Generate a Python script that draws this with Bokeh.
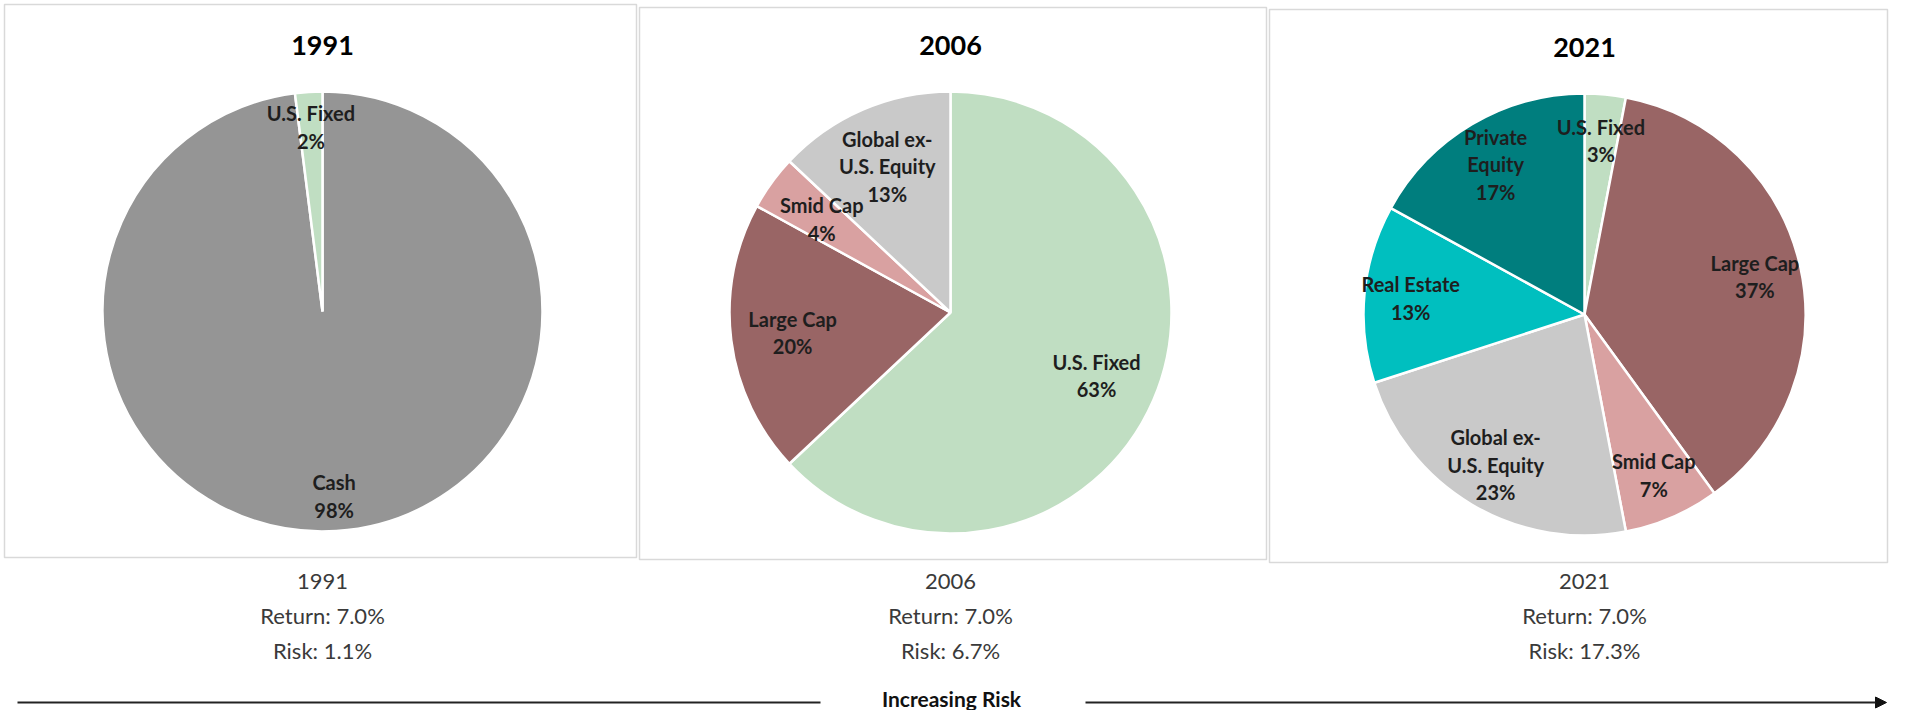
import math
from bokeh.plotting import figure
from bokeh.models import Range1d, Arrow, NormalHead, ColumnDataSource
from bokeh.core.properties import value
from bokeh.embed import file_html
from bokeh.resources import INLINE

# ---------------- data ----------------
years = ["1991", "2006", "2021"]
returns = ["7.0%", "7.0%", "7.0%"]
risks = ["1.1%", "6.7%", "17.3%"]

cats_1991 = ["Cash", "U.S. Fixed"]
vals_1991 = [98, 2]

cats_2006 = ["U.S. Fixed", "Large Cap", "Smid Cap", "Global ex-\nU.S. Equity"]
vals_2006 = [63, 20, 4, 13]

cats_2021 = ["U.S. Fixed", "Large Cap", "Smid Cap", "Global ex-\nU.S. Equity",
             "Real Estate", "Private\nEquity"]
vals_2021 = [3, 37, 7, 23, 13, 17]

colors = {
    "Cash": "#959595",
    "U.S. Fixed": "#C0DEC2",
    "Large Cap": "#996565",
    "Smid Cap": "#D9A1A1",
    "Global ex-\nU.S. Equity": "#C9C9C9",
    "Real Estate": "#00BFBF",
    "Private\nEquity": "#007E7E",
}

FONT = "Lato"
W, H = 1889, 710


def X(px):
    return px


def Y(py):
    return H - py


p = figure(width=W, height=H, output_backend="svg", toolbar_location=None,
           x_range=Range1d(0, W), y_range=Range1d(0, H),
           x_axis_location=None, y_axis_location=None, min_border=0)
p.grid.visible = False
p.outline_line_color = None
p.background_fill_color = "white"

# panel frames (screen px: left, top, right, bottom)
frames = [(4, 4, 636, 557), (639, 7, 1266, 559), (1269, 9, 1887, 562)]
for (l, t, r, b) in frames:
    p.quad(left=X(l), right=X(r), top=Y(t), bottom=Y(b), fill_color=None,
           line_color="#D9D9D9", line_width=1.5)

pies = [
    (cats_1991, vals_1991, 322, 311, 220, 0.84, 45),
    (cats_2006, vals_2006, 950, 312, 221, 0.72, 45),
    (cats_2021, vals_2021, 1584, 314, 221, 0.79, 47),
]

for i, (cats, vals, cx, cy, r, lr, ty) in enumerate(pies):
    total = float(sum(vals))
    starts, ends, lx, ly, labels, cols = [], [], [], [], [], []
    cum = 0.0
    for c, v in zip(cats, vals):
        a0 = math.pi / 2 - 2 * math.pi * cum / total
        a1 = math.pi / 2 - 2 * math.pi * (cum + v) / total
        mid = (a0 + a1) / 2
        starts.append(a1)
        ends.append(a0)
        lx.append(X(cx) + lr * r * math.cos(mid))
        ly.append(Y(cy) + lr * r * math.sin(mid))
        labels.append(f"{c}\n{v}%")
        cols.append(colors[c])
        cum += v
    src = ColumnDataSource(dict(x=[X(cx)] * len(vals), y=[Y(cy)] * len(vals),
                                start=starts, end=ends, color=cols))
    p.wedge(x="x", y="y", radius=r, start_angle="start", end_angle="end",
            direction="anticlock", fill_color="color", line_color="white",
            line_width=2.5, source=src)
    p.text(x=lx, y=ly, text=labels, text_font=value(FONT), text_font_style="bold",
           text_font_size="20px", text_color="#1E1E1E", text_align="center",
           text_baseline="middle", text_line_height=1.15)
    # title
    p.text(x=[X(cx)], y=[Y(ty)], text=[years[i]], text_font=value(FONT),
           text_font_style="bold", text_font_size="27px", text_color="#000000",
           text_align="center", text_baseline="middle")
    # caption below
    p.text(x=[X(cx)] * 3, y=[Y(581), Y(615), Y(650)],
           text=[years[i], f"Return: {returns[i]}", f"Risk: {risks[i]}"],
           text_font=value(FONT), text_font_size="22px", text_color="#3A3A3A",
           text_align="center", text_baseline="middle")

# increasing risk arrow
ay = 702
p.segment(x0=[X(17)], y0=[Y(ay)], x1=[X(820)], y1=[Y(ay)], line_color="#222222",
          line_width=2)
p.add_layout(Arrow(end=NormalHead(size=11, fill_color="#111111", line_color="#111111"),
                   x_start=X(1085), y_start=Y(ay), x_end=X(1886), y_end=Y(ay),
                   line_color="#222222", line_width=2))
p.text(x=[X(951)], y=[Y(698)], text=["Increasing Risk"], text_font=value(FONT),
       text_font_style="bold", text_font_size="21px", text_color="#111111",
       text_align="center", text_baseline="middle")

open("out.html", "w").write(file_html(p, INLINE))
